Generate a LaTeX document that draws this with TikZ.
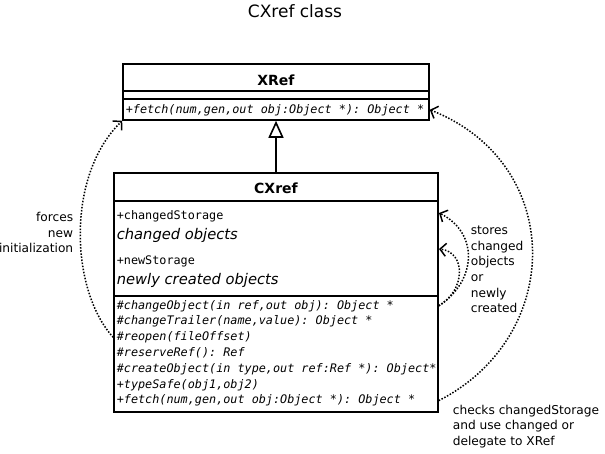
\documentclass[tikz,border=0pt]{standalone}
\usepackage{fontspec}
\setmainfont{DejaVu Sans}
\setmonofont{DejaVu Sans Mono}
\usetikzlibrary{arrows.meta}
\begin{document}
\begin{tikzpicture}[x=1pt, y=-1pt, line width=1.6pt,
                    box/.style={draw, rectangle, inner sep=0pt},
                    cname/.style={anchor=base, inner sep=0pt,
                                  font=\fontsize{14}{16}\selectfont\bfseries},
                    member/.style={anchor=base west, inner sep=0pt,
                                   font=\fontsize{11.8}{14}\selectfont\ttfamily},
                    method/.style={anchor=base west, inner sep=0pt,
                                   font=\fontsize{11.8}{14}\selectfont\ttfamily\itshape},
                    descr/.style={anchor=base west, inner sep=0pt,
                                  font=\fontsize{14.7}{17}\selectfont\itshape},
                    note/.style={inner sep=0pt, font=\fontsize{12.2}{15.6}\selectfont},
                    uses/.style={line width=1.5pt, dash pattern=on 1.5pt off 1.6pt,
                                 -{Straight Barb[length=6pt,width=13pt]}}]
    \useasboundingbox (0,0) rectangle (605,453);
    \node[anchor=base, inner sep=0pt, font=\fontsize{17}{20}\selectfont] (title) at (295,17.5) {CXref class};

    % base class
    \node[box, minimum width=306pt, minimum height=56pt] (xr) at (276,92) {};
    \draw (xr.west |- 0,91) -- (xr.east |- 0,91);
    \draw (xr.west |- 0,99) -- (xr.east |- 0,99);
    \node[cname] (xrname) at (276,85) {XRef};
    \node[method] (xop) at (125,113) {+fetch(num,gen,out obj:Object *): Object *};

    % derived class
    \node[box, minimum width=324pt, minimum height=239pt] (cx) at (276,292.5) {};
    \draw (cx.west |- 0,201) -- (cx.east |- 0,201);
    \draw (cx.west |- 0,296) -- (cx.east |- 0,296);
    \node[cname] (cxname) at (276,193.5) {CXref};
    \node[member] (cst) at (116,219) {+changedStorage};
    \node[descr]  (cstd) at (116,239.5) {changed objects};
    \node[member] (nst) at (116,264.5) {+newStorage};
    \node[descr]  (nstd) at (116,284) {newly created objects};
    \node[method] (op1) at (116,309)   {\#changeObject(in ref,out obj): Object *};
    \node[method] (op2) at (116,324.8) {\#changeTrailer(name,value): Object *};
    \node[method] (op3) at (116,340.6) {\#reopen(fileOffset)};
    \node[method] (op4) at (116,356.4) {\#reserveRef(): Ref};
    \node[method] (op5) at (116,372.2) {\#createObject(in type,out ref:Ref *): Object*};
    \node[method] (op6) at (116,388)   {+typeSafe(obj1,obj2)};
    \node[method] (op7) at (116,403.8) {+fetch(num,gen,out obj:Object *): Object *};

    % inheritance
    \draw[-{Triangle[open,length=17pt,width=15pt]}] (cx.north) -- (xr.south);

    % notes
    \node[note, anchor=east, align=right] (forces) at (74,232.5) {forces\\new\\initialization};
    \node[note, anchor=west, align=left] (stores) at (470,269.5)
        {stores\\changed\\objects\\or\\newly\\created};
    \node[note, anchor=west, align=left] (checks) at (452,426.5)
        {checks changedStorage\\and use changed or\\delegate to XRef};

    % dependencies
    \coordinate (cstin) at (439,213);
    \coordinate (nstin) at (439,249);
    \draw[uses] (cx.west |- op3) .. controls (70,290) and (66,175) .. (xr.south west);
    \draw[uses] (cx.east |- op7) .. controls (565,336) and (565,163) .. (xr.east |- xop);
    \draw[uses] (cx.east |- op1) .. controls (478,280) and (478,232) .. (cstin);
    \draw[uses] (cx.east |- op1) .. controls (466,290) and (466,252) .. (nstin);
\end{tikzpicture}
\end{document}
